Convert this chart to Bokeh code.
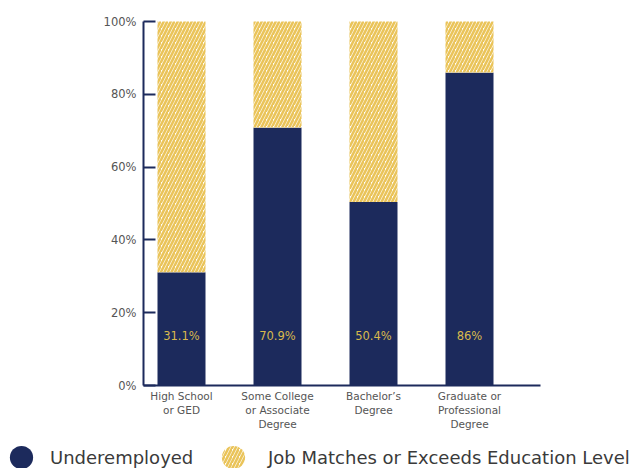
from bokeh.plotting import figure
from bokeh.models import ColumnDataSource, Range1d, FixedTicker, Legend, LegendItem
from bokeh.core.properties import value
from bokeh.embed import file_html
from bokeh.resources import INLINE

categories = ["High School\nor GED", "Some College\nor Associate\nDegree",
              "Bachelor\u2019s\nDegree", "Graduate or\nProfessional\nDegree"]
underemployed = [31.1, 70.9, 50.4, 86.0]
job_matches = [68.9, 29.1, 49.6, 14.0]
value_labels = ["31.1%", "70.9%", "50.4%", "86%"]
y_ticks = [0, 20, 40, 60, 80, 100]
y_tick_labels = ["0%", "20%", "40%", "60%", "80%", "100%"]

NAVY = "#1c2a5c"
GOLD = "#eac45a"
FONT = "DejaVu Sans"

W, H = 634, 468
# pixel layout of the axes box (frame covers the whole canvas)
AX_LEFT, AX_RIGHT, AX_TOP, AX_BOTTOM = 143, 540, 21, 385
PX_PER_CAT = 96.0
FIRST_CENTER = 181.0

xs = list(range(len(categories)))
source = ColumnDataSource(dict(
    x=xs,
    under=underemployed,
    match=job_matches,
    total=[u + m for u, m in zip(underemployed, job_matches)],
    label=value_labels,
))

px_per_y = (AX_BOTTOM - AX_TOP) / 100.0
x_start = (0 - FIRST_CENTER) / PX_PER_CAT
x_end = (W - FIRST_CENTER) / PX_PER_CAT
y_start = -(H - AX_BOTTOM) / px_per_y
y_end = 100 + AX_TOP / px_per_y
x_axis_lo = (AX_LEFT - FIRST_CENTER) / PX_PER_CAT
x_axis_hi = (AX_RIGHT - FIRST_CENTER) / PX_PER_CAT

p = figure(width=W, height=H, output_backend="svg", toolbar_location=None,
           x_range=Range1d(x_start, x_end), y_range=Range1d(y_start, y_end),
           min_border=0, background_fill_color="white", border_fill_color="white")
p.outline_line_color = None
p.grid.visible = False

p.vbar(x="x", bottom=0, top="under", width=0.5, source=source,
       fill_color=NAVY, line_color=None)
p.vbar(x="x", bottom="under", top="total", width=0.5, source=source,
       fill_color="white", line_color=None,
       hatch_pattern="/", hatch_color=GOLD, hatch_scale=7, hatch_weight=2.6)

p.text(x="x", y=13.7, text="label", source=source,
       text_font=value(FONT), text_font_size="11.5px", text_color="#d8b94c",
       text_align="center", text_baseline="middle")

# y axis
p.yaxis.fixed_location = x_axis_lo
p.yaxis.bounds = (0, 100)
p.yaxis.ticker = FixedTicker(ticks=y_ticks)
p.yaxis.major_label_overrides = {t: l for t, l in zip(y_ticks, y_tick_labels)}
p.yaxis.axis_line_color = NAVY
p.yaxis.axis_line_width = 2
p.yaxis.major_tick_line_color = NAVY
p.yaxis.major_tick_line_width = 2
p.yaxis.major_tick_in = 12
p.yaxis.major_tick_out = 0
p.yaxis.minor_tick_line_color = None
p.yaxis.major_label_standoff = 7
p.yaxis.major_label_text_font = FONT
p.yaxis.major_label_text_font_size = "11.5px"
p.yaxis.major_label_text_color = "#555555"

# x axis
p.xaxis.fixed_location = 0
p.xaxis.bounds = (x_axis_lo, x_axis_hi)
p.xaxis.ticker = FixedTicker(ticks=xs)
p.xaxis.major_label_overrides = {x: c for x, c in zip(xs, categories)}
p.xaxis.axis_line_color = NAVY
p.xaxis.axis_line_width = 2
p.xaxis.major_tick_line_color = None
p.xaxis.minor_tick_line_color = None
p.xaxis.major_tick_in = 0
p.xaxis.major_tick_out = 0
p.xaxis.major_label_standoff = 4
p.xaxis.major_label_text_font = FONT
p.xaxis.major_label_text_font_size = "10.5px"
p.xaxis.major_label_text_color = "#555555"

# legend glyph proxies (hidden renderers reusing the bar data)
r_under = p.scatter(x="x", y="under", source=source, marker="circle",
                    fill_color=NAVY, line_color=None, visible=False)
r_match = p.scatter(x="x", y="total", source=source, marker="circle",
                    fill_color="white", fill_alpha=0, line_color=None,
                    hatch_pattern="/", hatch_color=GOLD, hatch_scale=7,
                    hatch_weight=2.6, visible=False)

def make_legend(item, loc, standoff):
    return Legend(items=[item], location=loc, orientation="horizontal",
                  glyph_width=58, glyph_height=58, label_standoff=standoff,
                  padding=0, margin=0, border_line_alpha=0, background_fill_alpha=0,
                  inactive_fill_alpha=0, click_policy="none",
                  label_text_font=FONT, label_text_font_size="18px",
                  label_text_color="#3a3a3a", label_text_baseline="middle")

p.add_layout(make_legend(LegendItem(label="Underemployed", renderers=[r_under], index=0),
                         (-8, -18), -8))
p.add_layout(make_legend(LegendItem(label="Job Matches or Exceeds Education Level",
                                    renderers=[r_match], index=0), (204, -18), 6))

open("out.html", "w").write(file_html(p, INLINE))
